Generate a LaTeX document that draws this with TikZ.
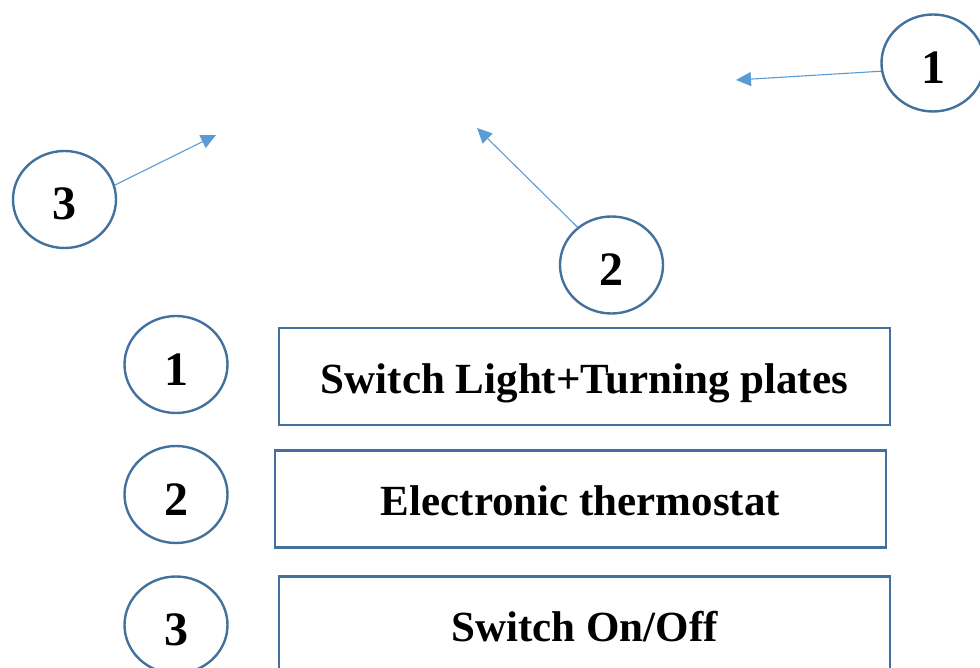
\documentclass[tikz,border=0pt]{standalone}
\usepackage{fontspec}
\setmainfont{Liberation Serif}
\usetikzlibrary{shapes.geometric,arrows.meta}
\definecolor{rimblue}{HTML}{41719C}
\definecolor{arrowblue}{HTML}{5B9BD5}
\begin{document}
\begin{tikzpicture}[x=1pt, y=-1pt,
  nummark/.style={ellipse, draw=rimblue, line width=2.4pt, minimum width=103pt, minimum height=97pt,
    inner sep=0pt, text height=41pt, text depth=0pt, font=\fontsize{48}{52}\selectfont\bfseries},
  legendbox/.style={rectangle, draw=rimblue, line width=2.2pt, minimum width=611pt, minimum height=97pt,
    inner sep=0pt, text height=36pt, text depth=3pt, font=\fontsize{43}{47}\selectfont\bfseries},
  pointer/.style={draw=arrowblue, line width=1.1pt, -{Triangle[length=15pt,width=14pt]}}]
\clip (0,0) rectangle (980,668);
% Pfeilspitzen im (leeren) Bild oben
\coordinate (T1) at (736,80);
\coordinate (T2) at (477,128);
\coordinate (T3) at (216,135);
% Nummern oben
\node[nummark] (N1) at (933,63)    {1};
\node[nummark] (N2) at (611.5,265) {2};
\node[nummark] (N3) at (64.5,199.5) {3};
\draw[pointer] (N1.189) -- (T1);
\draw[pointer] (N2.132) -- (T2);
\draw[pointer] (N3.16)  -- (T3);
% Legende
\node[nummark] (L1) at (176,364.5) {1};
\node[nummark] (L2) at (176,494.5) {2};
\node[nummark] (L3) at (176,625)   {3};
\node[legendbox] (B1) at (584.5,376.5) {Switch Light+Turning plates};
\node[legendbox] (B2) at (580.5,499)   {Electronic thermostat};
\node[legendbox] (B3) at (584.5,625)   {Switch On/Off};
\end{tikzpicture}
\end{document}
